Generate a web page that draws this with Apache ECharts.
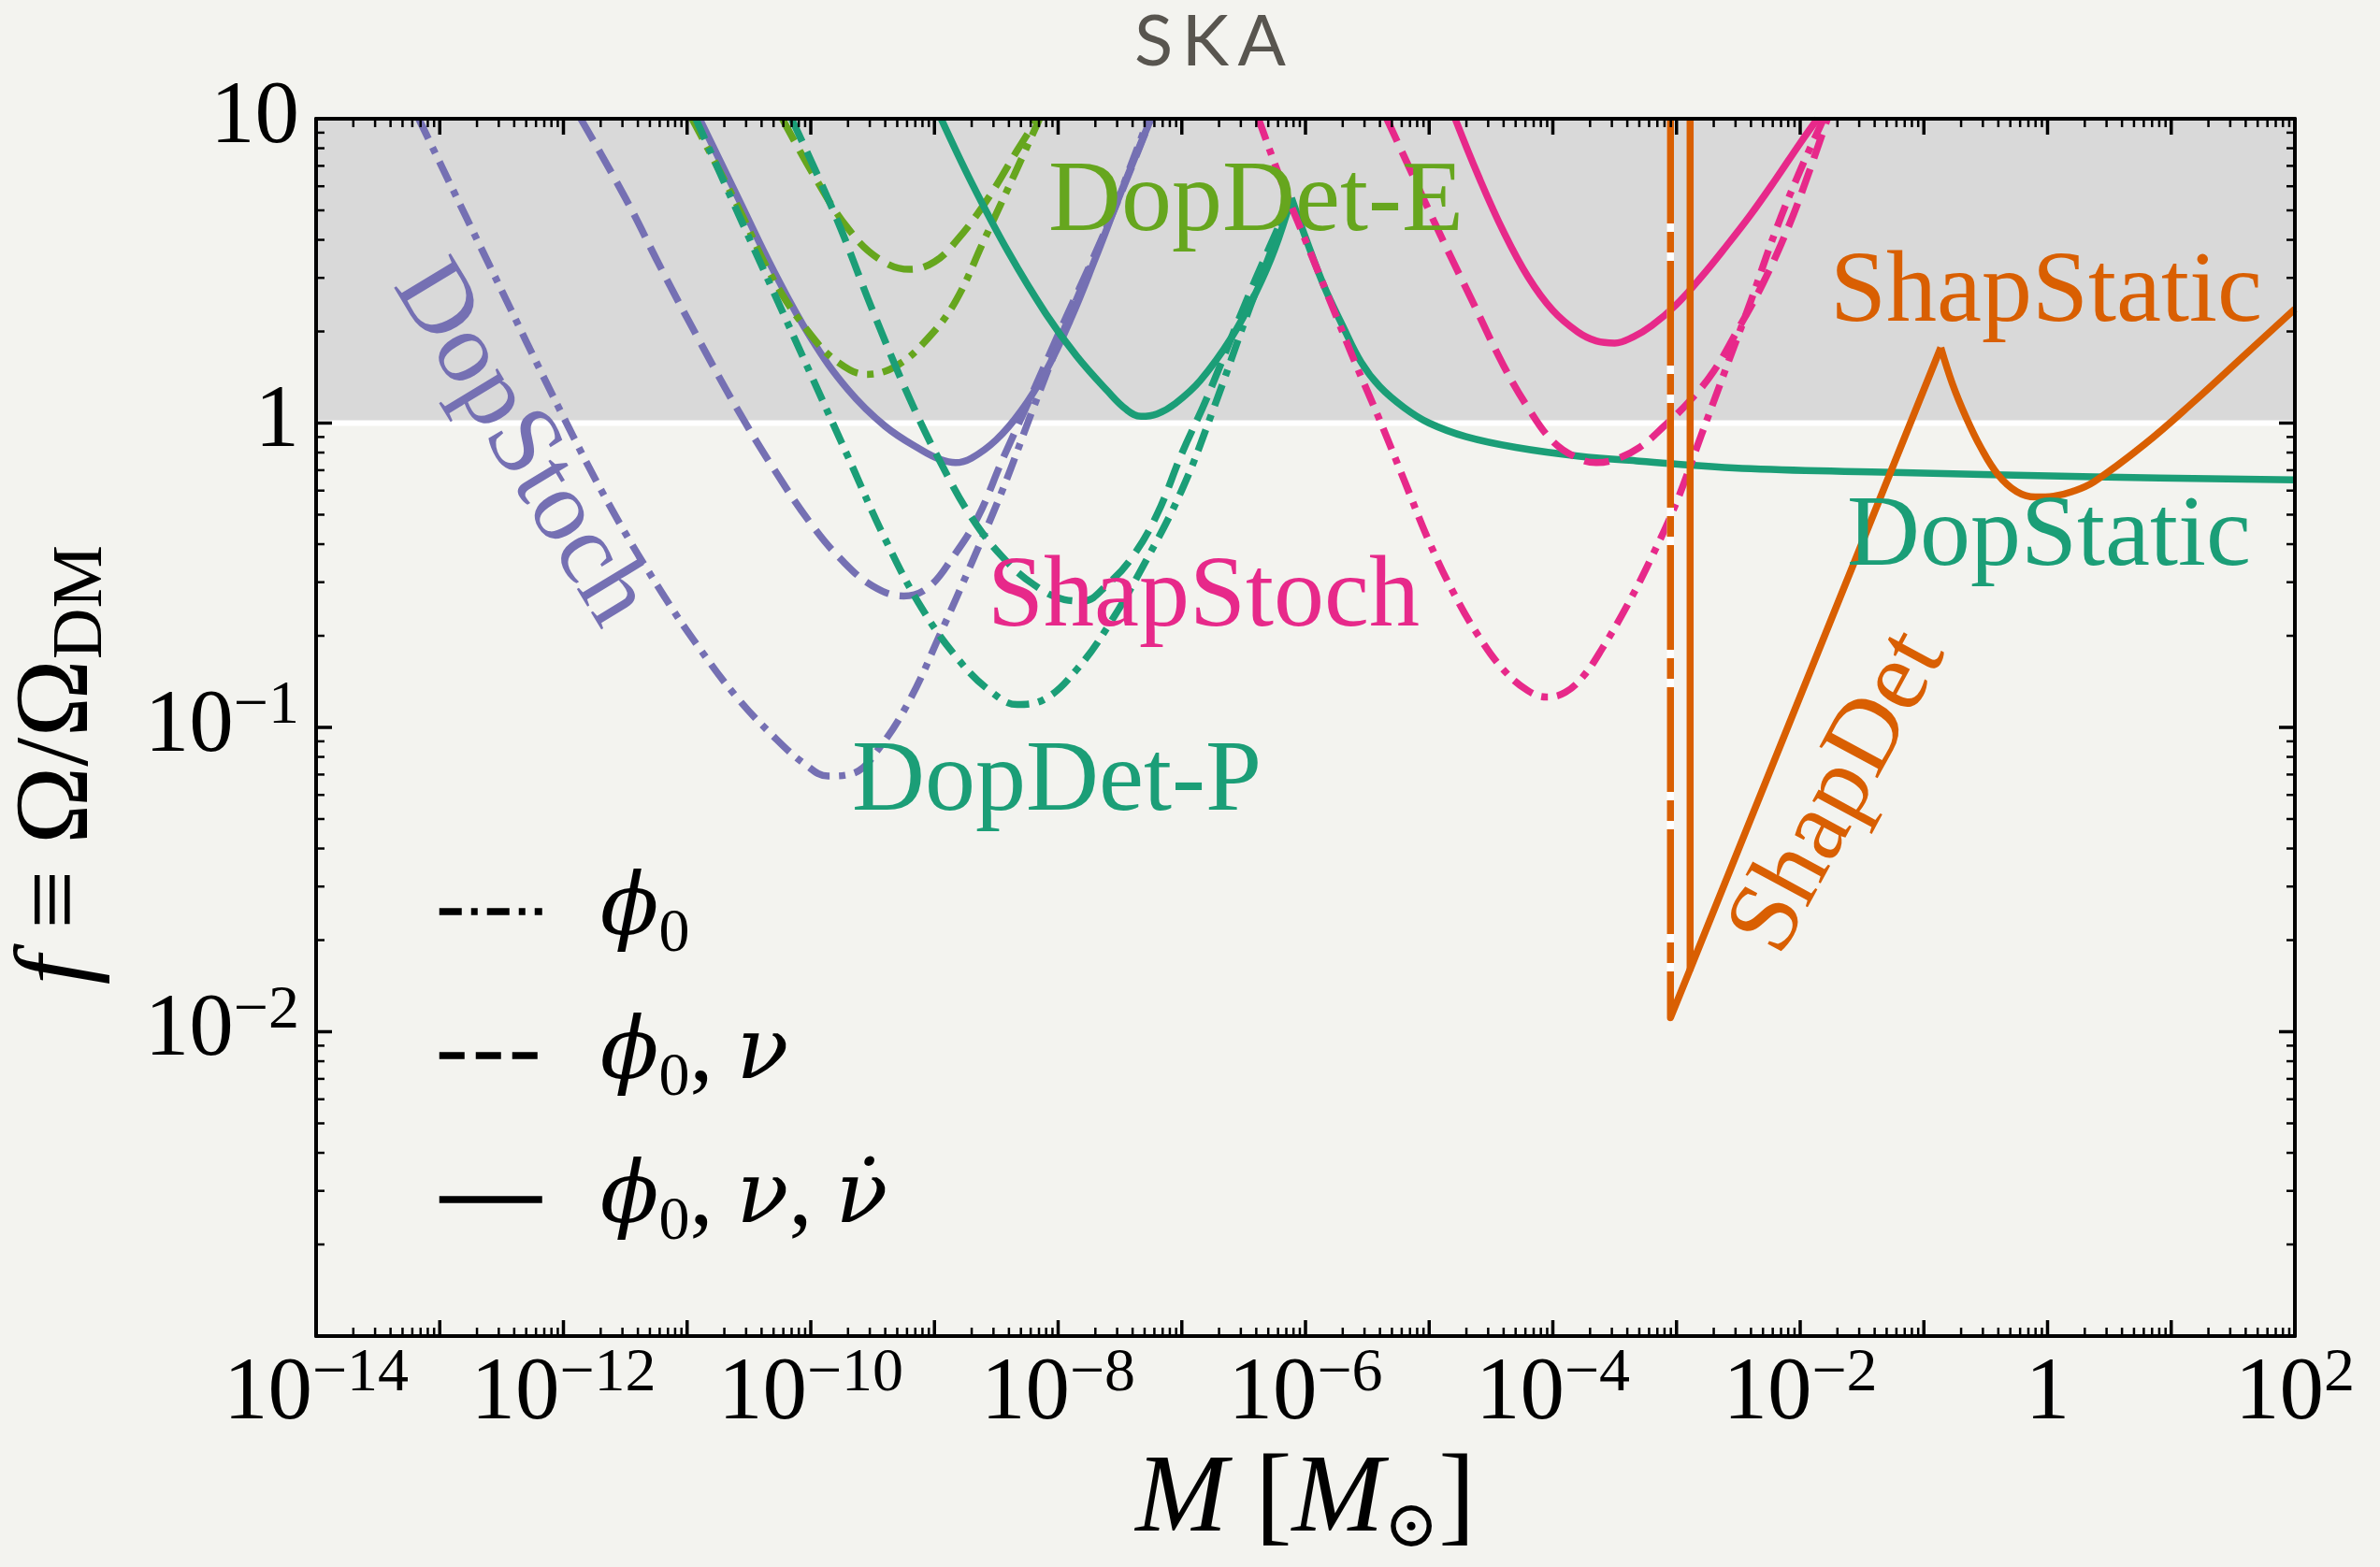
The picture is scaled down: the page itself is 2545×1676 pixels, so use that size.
<!DOCTYPE html>
<html>
<head>
<meta charset="utf-8">
<script src="https://cdn.jsdelivr.net/npm/echarts@6/dist/echarts.min.js"></script>
<style>
html,body{margin:0;padding:0;background:#f3f3ef;}
#c{width:2545px;height:1676px;}
</style>
</head>
<body>
<div id="c"></div>
<script>
// ---------------- axis ranges & tick labels (log10 units) ----------------
const xExpRange = [-14, 2];
const yExpRange = [-3, 1];
const xLabelExponents = [-14, -12, -10, -8, -6, -4, -2, 0, 2];
const yLabelExponents = [-2, -1, 0, 1];
const excludedBand = [1, 10];          // f between 1 and 10 is shaded

// ---------------- curves: [log10 M, log10 f] ----------------
// DopStoch (purple)
const dopStoch_phi0 = [[-13.17,1.0],[-12.6,0.52],[-12.0,0.02],[-11.6,-0.29],[-11.2,-0.56],[-10.9,-0.74],[-10.6,-0.9],[-10.3,-1.03],[-10.05,-1.12],[-9.86,-1.16],[-9.65,-1.15],[-9.45,-1.07],[-9.2,-0.91],[-8.95,-0.69],[-8.7,-0.46],[-8.45,-0.22],[-8.2,0.05],[-7.95,0.31],[-7.6,0.65],[-7.27,1.0]];
const dopStoch_phi0nu = [[-11.86,1.0],[-11.5,0.74],[-11.2,0.5],[-10.9,0.27],[-10.6,0.05],[-10.3,-0.15],[-10.0,-0.33],[-9.75,-0.45],[-9.5,-0.535],[-9.25,-0.568],[-9.05,-0.54],[-8.85,-0.44],[-8.65,-0.31],[-8.45,-0.12],[-8.25,0.06],[-8.0,0.29],[-7.6,0.65],[-7.25,1.0]];
const dopStoch_full = [[-10.9,1.0],[-10.6,0.75],[-10.3,0.5],[-10.0,0.28],[-9.7,0.11],[-9.4,-0.01],[-9.1,-0.09],[-8.95,-0.12],[-8.83,-0.13],[-8.7,-0.115],[-8.5,-0.055],[-8.3,0.04],[-8.1,0.17],[-7.9,0.34],[-7.7,0.54],[-7.5,0.75],[-7.25,1.0]];
// DopDet-E (lime)
const dopDetE_phi0 = [[-10.96,1.0],[-10.6,0.72],[-10.3,0.47],[-10.0,0.29],[-9.78,0.2],[-9.55,0.16],[-9.3,0.19],[-9.05,0.28],[-8.83,0.4],[-8.6,0.6],[-8.35,0.82],[-8.15,1.0]];
const dopDetE_phi0nu = [[-10.23,1.0],[-9.97,0.81],[-9.7,0.64],[-9.45,0.54],[-9.2,0.505],[-9.0,0.53],[-8.82,0.6],[-8.58,0.73],[-8.34,0.89],[-8.17,1.0]];
// DopDet-P (teal)
const dopDetP_phi0 = [[-10.93,1.0],[-10.6,0.7],[-10.3,0.43],[-10.0,0.16],[-9.7,-0.11],[-9.4,-0.38],[-9.1,-0.61],[-8.8,-0.78],[-8.55,-0.88],[-8.33,-0.925],[-8.1,-0.905],[-7.85,-0.81],[-7.6,-0.67],[-7.3,-0.46],[-7.0,-0.22],[-6.75,0.04],[-6.45,0.38],[-6.113,0.74]];
const dopDetP_phi0nu = [[-10.155,1.0],[-9.8,0.68],[-9.5,0.37],[-9.2,0.08],[-8.95,-0.13],[-8.7,-0.31],[-8.45,-0.44],[-8.2,-0.53],[-7.95,-0.58],[-7.8,-0.585],[-7.6,-0.53],[-7.4,-0.44],[-7.2,-0.3],[-7.0,-0.1],[-6.8,0.08],[-6.5,0.38],[-6.3,0.57],[-6.113,0.74]];
const dopDetP_full = [[-8.946,1.0],[-8.7,0.79],[-8.4,0.56],[-8.1,0.36],[-7.85,0.22],[-7.6,0.105],[-7.45,0.045],[-7.33,0.022],[-7.2,0.03],[-7.05,0.065],[-6.85,0.14],[-6.6,0.28],[-6.4,0.43],[-6.25,0.57],[-6.113,0.74]];
// DopStatic (teal)
const dopStatic = [[-6.113,0.74],[-6.0,0.61],[-5.85,0.45],[-5.7,0.32],[-5.55,0.2],[-5.4,0.12],[-5.2,0.05],[-5.0,0.0],[-4.7,-0.045],[-4.3,-0.08],[-3.8,-0.108],[-3.3,-0.125],[-2.4,-0.15],[-1.25,-0.162],[0.375,-0.177],[2.0,-0.187]];
// ShapStoch (pink)
const shapStoch_phi0 = [[-6.38,1.0],[-6.2,0.8],[-6.0,0.6],[-5.8,0.4],[-5.6,0.2],[-5.4,0.01],[-5.2,-0.19],[-5.0,-0.39],[-4.8,-0.56],[-4.6,-0.7],[-4.4,-0.81],[-4.2,-0.88],[-4.05,-0.9],[-3.9,-0.885],[-3.75,-0.83],[-3.6,-0.74],[-3.4,-0.6],[-3.2,-0.44],[-3.0,-0.26],[-2.8,-0.04],[-2.6,0.18],[-2.4,0.4],[-2.2,0.63],[-2.0,0.83],[-1.81,1.0]];
const shapStoch_phi0nu = [[-5.343,1.0],[-5.15,0.83],[-4.9,0.61],[-4.65,0.4],[-4.4,0.19],[-4.2,0.05],[-4.0,-0.06],[-3.8,-0.115],[-3.65,-0.13],[-3.5,-0.12],[-3.3,-0.08],[-3.1,-0.01],[-2.9,0.07],[-2.7,0.17],[-2.5,0.31],[-2.3,0.46],[-2.1,0.64],[-1.95,0.8],[-1.78,1.0]];
const shapStoch_full = [[-4.79,1.0],[-4.6,0.81],[-4.4,0.63],[-4.2,0.48],[-4.0,0.37],[-3.8,0.3],[-3.65,0.27],[-3.5,0.263],[-3.35,0.283],[-3.2,0.32],[-3.0,0.39],[-2.8,0.48],[-2.6,0.58],[-2.4,0.685],[-2.2,0.8],[-2.0,0.92],[-1.86,1.0]];
// ShapDet / ShapStatic (orange)
const shapDet_phi0 = [[-3.049,1.0],[-3.049,-1.954],[-2.89,-1.795]];
const shapDet_full = [[-2.89,1.0],[-2.89,-1.795],[-0.863,0.248]];
const shapStatic = [[-0.863,0.248],[-0.77,0.13],[-0.66,0.02],[-0.54,-0.08],[-0.4,-0.17],[-0.25,-0.225],[-0.1,-0.243],[0.05,-0.24],[0.2,-0.225],[0.375,-0.193],[0.784,-0.07],[1.19,0.073],[1.6,0.226],[2.0,0.375]];

// ---------------- styles ----------------
const PURPLE = '#7570b3', TEAL = '#1b9e77', LIME = '#66a61e', PINK = '#e7298a', ORANGE = '#d95f02';
const LW = 7.5;
const DASHED = [27, 12];
const DASHDOT = [24, 10, 7, 10];
const ORANGE_DASHDOT = [112, 9, 22, 9];
const SERIF = '"Liberation Serif", "DejaVu Serif", serif';
const GREEK = '"DejaVu Serif", serif';
const SMOOTH = 0.4;

const toData = pts => pts.map(p => [Math.pow(10, p[0]), Math.pow(10, p[1])]);

function curve(name, pts, color, type, smooth, extra) {
  return Object.assign({
    type: 'line', name: name, data: toData(pts), symbol: 'none', showSymbol: false,
    smooth: smooth, silent: true, z: 3, clip: true,
    lineStyle: { color: color, width: LW, type: type, cap: 'butt', join: 'round' },
    itemStyle: { color: color }
  }, extra || {});
}

// tick positions (computed axis decoration)
const xMajor = [], xMinor = [], yMajor = [], yMinor = [];
for (let e = xExpRange[0]; e <= xExpRange[1]; e++) {
  xMajor.push(Math.pow(10, e));
  if (e < xExpRange[1]) for (let m = 2; m <= 9; m++) xMinor.push(m * Math.pow(10, e));
}
for (let e = yExpRange[0]; e <= yExpRange[1]; e++) {
  yMajor.push(Math.pow(10, e));
  if (e < yExpRange[1]) for (let m = 2; m <= 9; m++) yMinor.push(m * Math.pow(10, e));
}

function tickSeries(values, axis, len, width) {
  return {
    type: 'custom', silent: true, z: 12, clip: false,
    data: values.map(v => axis === 'x' ? [v, 1] : [1, v]),
    encode: { x: 0, y: 1 },
    renderItem: function (params, api) {
      const cs = params.coordSys;
      const st = { stroke: '#000', lineWidth: width };
      if (axis === 'x') {
        const x = api.coord([api.value(0), 1])[0];
        return { type: 'group', children: [
          { type: 'line', shape: { x1: x, y1: cs.y + cs.height, x2: x, y2: cs.y + cs.height - len }, style: st },
          { type: 'line', shape: { x1: x, y1: cs.y, x2: x, y2: cs.y + len }, style: st }
        ] };
      }
      const y = api.coord([1, api.value(1)])[1];
      return { type: 'group', children: [
        { type: 'line', shape: { x1: cs.x, y1: y, x2: cs.x + len, y2: y }, style: st },
        { type: 'line', shape: { x1: cs.x + cs.width, y1: y, x2: cs.x + cs.width - len, y2: y }, style: st }
      ] };
    }
  };
}

const labelRich = {
  b: { fontFamily: SERIF, fontSize: 95, lineHeight: 110, color: '#000' },
  s: { fontFamily: SERIF, fontSize: 66, lineHeight: 58, verticalAlign: 'top', color: '#000' }
};
function expText(e, topIsTen) {
  if (e === 0) return '{b|1}';
  if (e === 1 && topIsTen) return '{b|10}';
  return '{b|10}{s|' + (e < 0 ? '\u2212' : '') + Math.abs(e) + '}';
}

const axisBase = {
  type: 'log', logBase: 10, z: 10, splitLine: { show: false }, minorTick: { show: false },
  axisLine: { show: true, onZero: false, lineStyle: { color: '#000', width: 4 } },
  axisTick: { show: false }
};

const legendNames = ['phi0', 'phi0nu', 'phi0nunudot'];
const legendText = {
  phi0: '{g|}{i|\u03d5}{s|0}',
  phi0nu: '{g|}{i|\u03d5}{s|0}{r|, }{i|\u03bd}',
  phi0nunudot: '{g|}{i|\u03d5}{s|0}{r|, }{i|\u03bd}{r|, }{i|\u03bd\u0307}'
};

const option = {
  backgroundColor: '#f3f3ef',
  animation: false,
  title: {
    text: 'S\u2009K\u2009A', left: 1289, top: 0, textAlign: 'center',
    textStyle: { fontFamily: 'Lato, "Open Sans", sans-serif', fontWeight: 'normal', fontSize: 76, lineHeight: 80, color: '#58554f' }
  },
  grid: { left: 336, top: 127, right: 91, bottom: 241, containLabel: false },
  legend: {
    data: legendNames, orient: 'vertical', left: 461, top: 924,
    itemWidth: 110, itemHeight: 20, itemGap: 46, selectedMode: false,
    itemStyle: { opacity: 0 },
    lineStyle: { width: LW, color: '#000', type: 'inherit', opacity: 1 },
    formatter: n => legendText[n],
    textStyle: {
      color: '#000',
      rich: {
        g: { width: 57 },
        i: { fontFamily: GREEK, fontStyle: 'italic', fontSize: 92, lineHeight: 116, color: '#000' },
        r: { fontFamily: SERIF, fontSize: 100, lineHeight: 116, color: '#000' },
        s: { fontFamily: SERIF, fontSize: 66, lineHeight: 70, verticalAlign: 'bottom', color: '#000' }
      }
    }
  },
  xAxis: [
    Object.assign({}, axisBase, {
      position: 'bottom', min: Math.pow(10, xExpRange[0]), max: Math.pow(10, xExpRange[1]), interval: 1, splitNumber: 16,
      axisLabel: {
        margin: 8, color: '#000', rich: labelRich,
        formatter: v => { const e = Math.round(Math.log10(v)); return xLabelExponents.includes(e) ? expText(e, false) : ''; }
      },
      name: '{i|M}{r| [}{i|M}{s|\u2299}{r|]}', nameLocation: 'middle', nameGap: 112,
      nameTextStyle: {
        rich: {
          i: { fontFamily: SERIF, fontStyle: 'italic', fontSize: 118, lineHeight: 130, color: '#000' },
          r: { fontFamily: SERIF, fontSize: 118, lineHeight: 130, color: '#000' },
          s: { fontFamily: '"DejaVu Serif", serif', fontSize: 70, lineHeight: 76, verticalAlign: 'bottom', color: '#000' }
        }
      }
    }),
    Object.assign({}, axisBase, {
      position: 'top', min: Math.pow(10, xExpRange[0]), max: Math.pow(10, xExpRange[1]), interval: 1, splitNumber: 16,
      axisLabel: { show: false }
    })
  ],
  yAxis: [
    Object.assign({}, axisBase, {
      position: 'left', min: Math.pow(10, yExpRange[0]), max: Math.pow(10, yExpRange[1]), interval: 1,
      axisLabel: {
        margin: 18, color: '#000', rich: labelRich,
        formatter: v => { const e = Math.round(Math.log10(v)); return yLabelExponents.includes(e) ? expText(e, true) : ''; }
      },
      name: '{i|f}{r| \u2261 \u03a9/\u03a9}{s|DM}', nameLocation: 'middle', nameGap: 212, nameRotate: 90,
      nameTextStyle: {
        padding: [0, 80, 0, 0],
        rich: {
          i: { fontFamily: SERIF, fontStyle: 'italic', fontSize: 112, lineHeight: 124, color: '#000' },
          r: { fontFamily: SERIF, fontSize: 112, lineHeight: 124, color: '#000' },
          s: { fontFamily: SERIF, fontSize: 76, lineHeight: 82, verticalAlign: 'bottom', color: '#000' }
        }
      }
    }),
    Object.assign({}, axisBase, {
      position: 'right', min: Math.pow(10, yExpRange[0]), max: Math.pow(10, yExpRange[1]), interval: 1,
      axisLabel: { show: false }
    })
  ],
  series: [
    {
      type: 'custom', name: 'band', silent: true, z: 1, clip: true,
      data: [[Math.pow(10, xExpRange[0]), excludedBand[0], Math.pow(10, xExpRange[1]), excludedBand[1]]],
      encode: { x: [0, 2], y: [1, 3] },
      renderItem: function (params, api) {
        const a = api.coord([api.value(0), api.value(3)]);
        const b = api.coord([api.value(2), api.value(1)]);
        return { type: 'group', children: [
          { type: 'rect', shape: { x: a[0], y: a[1], width: b[0] - a[0], height: b[1] - a[1] }, style: { fill: '#d9d9d9' } },
          { type: 'line', shape: { x1: a[0], y1: b[1], x2: b[0], y2: b[1] }, style: { stroke: '#ffffff', lineWidth: 6 } }
        ] };
      }
    },
    tickSeries(xMajor, 'x', 17, 3.5),
    tickSeries(xMinor, 'x', 9, 2.5),
    tickSeries(yMajor, 'y', 17, 3.5),
    tickSeries(yMinor, 'y', 9, 2.5),

    curve('DopStoch phi0', dopStoch_phi0, PURPLE, DASHDOT, SMOOTH),
    curve('DopStoch phi0nu', dopStoch_phi0nu, PURPLE, DASHED, SMOOTH),
    curve('DopStoch full', dopStoch_full, PURPLE, 'solid', SMOOTH),
    curve('DopDetE phi0', dopDetE_phi0, LIME, DASHDOT, SMOOTH),
    curve('DopDetE phi0nu', dopDetE_phi0nu, LIME, DASHED, SMOOTH),
    curve('DopDetP phi0', dopDetP_phi0, TEAL, DASHDOT, SMOOTH),
    curve('DopDetP phi0nu', dopDetP_phi0nu, TEAL, DASHED, SMOOTH),
    curve('DopDetP full', dopDetP_full, TEAL, 'solid', SMOOTH),
    curve('DopStatic', dopStatic, TEAL, 'solid', SMOOTH),
    curve('ShapStoch phi0', shapStoch_phi0, PINK, DASHDOT, SMOOTH),
    curve('ShapStoch phi0nu', shapStoch_phi0nu, PINK, DASHED, SMOOTH),
    curve('ShapStoch full', shapStoch_full, PINK, 'solid', SMOOTH),
    curve('ShapDet phi0 gap', shapDet_phi0, '#ffffff', 'solid', false, { z: 3 }),
    curve('ShapDet phi0', shapDet_phi0, ORANGE, ORANGE_DASHDOT, false, { z: 4 }),
    curve('ShapDet full', shapDet_full, ORANGE, 'solid', false, { z: 4 }),
    curve('ShapStatic', shapStatic, ORANGE, 'solid', SMOOTH, { z: 4 }),

    // legend entries (line styles only)
    { type: 'line', name: 'phi0', data: [], symbol: 'none', showSymbol: false, lineStyle: { color: '#000', width: LW, type: DASHDOT }, itemStyle: { color: '#000', opacity: 0 } },
    { type: 'line', name: 'phi0nu', data: [], symbol: 'none', showSymbol: false, lineStyle: { color: '#000', width: LW, type: DASHED }, itemStyle: { color: '#000', opacity: 0 } },
    { type: 'line', name: 'phi0nunudot', data: [], symbol: 'none', showSymbol: false, lineStyle: { color: '#000', width: LW, type: 'solid' }, itemStyle: { color: '#000', opacity: 0 } }
  ],
  graphic: [
    { type: 'text', x: 1343, y: 218, z: 20, silent: true, style: { text: 'DopDet-E', fill: LIME, font: '108px ' + SERIF, align: 'center', verticalAlign: 'middle', textAlign: 'center', textVerticalAlign: 'middle' } },
    { type: 'text', x: 2188, y: 315, z: 20, silent: true, style: { text: 'ShapStatic', fill: ORANGE, font: '108px ' + SERIF, align: 'center', verticalAlign: 'middle', textAlign: 'center', textVerticalAlign: 'middle' } },
    { type: 'text', x: 2191, y: 576, z: 20, silent: true, style: { text: 'DopStatic', fill: TEAL, font: '108px ' + SERIF, align: 'center', verticalAlign: 'middle', textAlign: 'center', textVerticalAlign: 'middle' } },
    { type: 'text', x: 1287, y: 641, z: 20, silent: true, style: { text: 'ShapStoch', fill: PINK, font: '108px ' + SERIF, align: 'center', verticalAlign: 'middle', textAlign: 'center', textVerticalAlign: 'middle' } },
    { type: 'text', x: 1130, y: 838, z: 20, silent: true, style: { text: 'DopDet-P', fill: TEAL, font: '108px ' + SERIF, align: 'center', verticalAlign: 'middle', textAlign: 'center', textVerticalAlign: 'middle' } },
    { type: 'text', x: 556, y: 475, rotation: -1.026, z: 20, silent: true, style: { text: 'DopStoch', fill: PURPLE, font: '108px ' + SERIF, align: 'center', verticalAlign: 'middle', textAlign: 'center', textVerticalAlign: 'middle' } },
    { type: 'text', x: 1967, y: 848, rotation: 1.075, z: 20, silent: true, style: { text: 'ShapDet', fill: ORANGE, font: '108px ' + SERIF, align: 'center', verticalAlign: 'middle', textAlign: 'center', textVerticalAlign: 'middle' } }
  ]
};

const chart = echarts.init(document.getElementById('c'), null, { renderer: 'canvas', width: 2545, height: 1676 });
chart.setOption(option);
</script>
</body>
</html>
